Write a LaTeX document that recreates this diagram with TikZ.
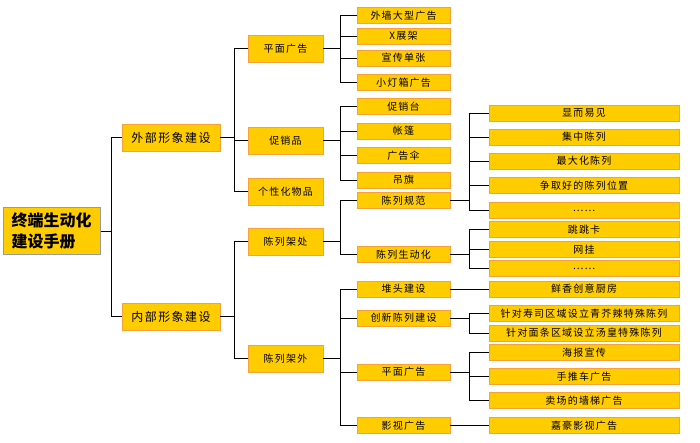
\documentclass[tikz,border=0pt]{standalone}
\usepackage{fontspec}
\setmainfont{Noto Sans CJK SC}
\newfontfamily\spaced[LetterSpace=12]{Noto Sans CJK SC}
\definecolor{boxfill}{HTML}{FFCC00}
\definecolor{boxedge}{HTML}{F7A13A}
\definecolor{rootedge}{HTML}{9A9A9A}
\begin{document}
\begin{tikzpicture}[x=1pt,y=-1pt,
  box/.style={draw=boxedge,fill=boxfill,line width=0.9pt,inner sep=0pt,font=\spaced\fontsize{10}{12}\selectfont},
  rootbox/.style={draw=rootedge,fill=boxfill,line width=1pt,inner sep=0pt,align=left,font=\fontsize{16}{21}\selectfont\bfseries,minimum width=97,minimum height=47},
  lvA/.style={box,minimum width=98,minimum height=27,font=\spaced\fontsize{12}{14}\selectfont},
  lvB/.style={box,minimum width=75,minimum height=27},
  lvC/.style={box,minimum width=93,minimum height=16},
  lvD/.style={box,minimum width=190,minimum height=16},
  conn/.style={draw=black,line width=0.9pt}]
\useasboundingbox (0,0) rectangle (700,442);
% root
\node[rootbox] (root) at (51.5,231) {终端生动化\\建设手册};
% level 1
\node[lvA] (ext) at (171,137.5) {外部形象建设};
\node[lvA] (int) at (171,316.5) {内部形象建设};
% level 2
\node[lvB] (pm) at (285.5,48.5) {平面广告};
\node[lvB] (cx) at (285.5,140.5) {促销品};
\node[lvB] (gx) at (285.5,191.5) {个性化物品};
\node[lvB] (jc) at (285.5,241.5) {陈列架处};
\node[lvB] (jw) at (285.5,358.5) {陈列架外};
% level 3
\node[lvC] (c1) at (403.5,15.5) {外墙大型广告};
\node[lvC] (c2) at (403.5,36) {X展架};
\node[lvC] (c3) at (403.5,58) {宣传单张};
\node[lvC] (c4) at (403.5,82.5) {小灯箱广告};
\node[lvC] (c5) at (403.5,106.5) {促销台};
\node[lvC] (c6) at (403.5,131) {帐篷};
\node[lvC] (c7) at (403.5,155.5) {广告伞};
\node[lvC] (c8) at (403.5,180) {吊旗};
\node[lvC] (c9) at (403.5,200.5) {陈列规范};
\node[lvC] (c10) at (403.5,254.5) {陈列生动化};
\node[lvC] (c11) at (403.5,289) {堆头建设};
\node[lvC] (c12) at (403.5,318) {创新陈列建设};
\node[lvC] (c13) at (403.5,372) {平面广告};
\node[lvC] (c14) at (403.5,425.5) {影视广告};
% level 4
\node[lvD] (d1) at (584,113) {显而易见};
\node[lvD] (d2) at (584,137) {集中陈列};
\node[lvD] (d3) at (584,161) {最大化陈列};
\node[lvD] (d4) at (584,185.5) {争取好的陈列位置};
\node[lvD] (d5) at (584,210.5) {……};
\node[lvD] (d6) at (584,229.5) {跳跳卡};
\node[lvD] (d7) at (584,249.5) {网挂};
\node[lvD] (d8) at (584,268.5) {……};
\node[lvD] (d9) at (584,289) {鲜香创意厨房};
\node[lvD] (d10) at (584,313.5) {针对寿司区域设立青芥辣特殊陈列};
\node[lvD] (d11) at (584,333) {针对面条区域设立汤皇特殊陈列};
\node[lvD] (d12) at (584,352.5) {海报宣传};
\node[lvD] (d13) at (584,376.5) {手推车广告};
\node[lvD] (d14) at (584,400.5) {卖场的墙梯广告};
\node[lvD] (d15) at (584,425.5) {嘉豪影视广告};
% connectors
\draw[conn] (root.east) -- ++(11,0) coordinate (r1);
\draw[conn] (r1) |- (ext.west);
\draw[conn] (r1) |- (int.west);
\draw[conn] (ext.east) -- ++(14,0) coordinate (e1);
\foreach \n in {pm,cx,gx} \draw[conn] (e1) |- (\n.west);
\draw[conn] (int.east) -- ++(14,0) coordinate (i1);
\foreach \n in {jc,jw} \draw[conn] (i1) |- (\n.west);
\draw[conn] (pm.east) -- ++(17,0) coordinate (p1);
\foreach \n in {c1,c2,c3,c4} \draw[conn] (p1) |- (\n.west);
\draw[conn] (cx.east) -- ++(17,0) coordinate (x1);
\foreach \n in {c5,c6,c7,c8} \draw[conn] (x1) |- (\n.west);
\draw[conn] (jc.east) -- ++(17,0) coordinate (j1);
\foreach \n in {c9,c10} \draw[conn] (j1) |- (\n.west);
\draw[conn] (jw.east) -- ++(17,0) coordinate (w1);
\foreach \n in {c11,c12,c13,c14} \draw[conn] (w1) |- (\n.west);
\draw[conn] (c9.east) -- ++(19,0) coordinate (g1);
\foreach \n in {d1,d2,d3,d4,d5} \draw[conn] (g1) |- (\n.west);
\draw[conn] (c10.east) -- ++(19,0) coordinate (g2);
\foreach \n in {d6,d7,d8} \draw[conn] (g2) |- (\n.west);
\draw[conn] (c11.east) -- (d9.west);
\draw[conn] (c12.east) -- ++(19,0) coordinate (g3);
\foreach \n in {d10,d11} \draw[conn] (g3) |- (\n.west);
\draw[conn] (c13.east) -- ++(19,0) coordinate (g4);
\foreach \n in {d12,d13,d14} \draw[conn] (g4) |- (\n.west);
\draw[conn] (c14.east) -- (d15.west);
\end{tikzpicture}
\end{document}
